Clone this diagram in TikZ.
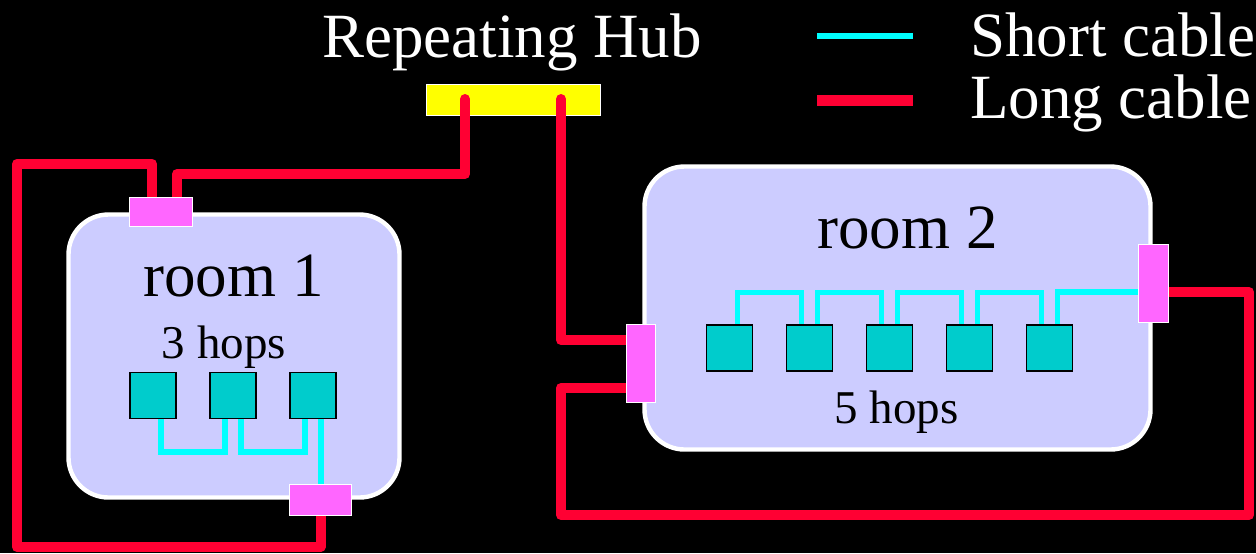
\documentclass[tikz,border=0pt]{standalone}
\usepackage{fontspec}
\setmainfont{Liberation Serif}
\usetikzlibrary{positioning,calc}
\definecolor{roomfill}{HTML}{CCCCFF}
\definecolor{plugfill}{HTML}{FF66FF}
\definecolor{devfill}{HTML}{00CCCC}
\definecolor{shortcol}{HTML}{00FFFF}
\definecolor{longcol}{HTML}{FF0033}
\definecolor{hubfill}{HTML}{FFFF00}
\pgfdeclarelayer{back}
\pgfdeclarelayer{wires}
\pgfsetlayers{back,wires,main}
\tikzset{
  room/.style={draw=white,line width=2.2pt,fill=roomfill,rounded corners=20pt,inner sep=0pt},
  dev/.style={draw=black,line width=0.8pt,fill=devfill,minimum size=23pt,inner sep=0pt},
  plug/.style={draw=white,line width=0.7pt,fill=plugfill,inner sep=0pt},
  short/.style={draw=shortcol,line width=2.7pt},
  long/.style={draw=longcol,line width=5pt,line join=round},
  big/.style={font=\fontsize{31.5}{36}\selectfont},
  small/.style={font=\fontsize{23.5}{28}\selectfont}
}
\begin{document}
\begin{tikzpicture}[x=0.5pt,y=-0.5pt]
      \begin{pgfonlayer}{back}
        \fill[black] (0,0) rectangle (1256,553);
        \node[room,minimum width=165.5pt,minimum height=141.5pt] (r1) at (234,356) {};
        \node[room,minimum width=253pt,minimum height=141.5pt] (r2) at (897.5,308) {};
        \node[draw=white,line width=0.5pt,fill=hubfill,minimum width=87pt,minimum height=15.5pt,inner sep=0pt] (hub) at (513.5,100) {};
      \end{pgfonlayer}
      \useasboundingbox (0,0) rectangle (1256,553);
      % texts
      \node[big,white,anchor=base] (title) at (512,57) {Repeating Hub};
      \node[big,anchor=base] (n1) at (233.5,296) {room 1};
      \node[small,anchor=base] (h1) at (224,358) {3 hops};
      \node[big,anchor=base] (n2) at (907.5,248) {room 2};
      \node[small,anchor=base] (h2) at (896.5,423) {5 hops};
      \node[big,white,anchor=base west] (lshort) at (963,56) {Short cable};
      \node[big,white,anchor=base west] (llong) at (963,118) {Long cable};
      % stations
      \foreach \i in {1,2,3}
        \node[dev] (a\i) at (73+80*\i,395.5) {};
      \foreach \i in {1,...,5}
        \node[dev] (b\i) at (649.5+80*\i,348) {};
      % plugs
      \node[plug,minimum width=31.5pt,minimum height=14.5pt] (p1) at (161,212) {};
      \node[plug,minimum width=31pt,minimum height=15.5pt] (p2) at (320.5,500) {};
      \node[plug,minimum width=14.5pt,minimum height=39pt] (p3) at (641,363.5) {};
      \node[plug,minimum width=15pt,minimum height=39pt] (p4) at (1153.5,283.5) {};
      \coordinate (hubl) at (465,99);
      \coordinate (hubr) at (561,99);
      \coordinate (lp) at (17,547);
      \coordinate (lc) at (561,515);
      \coordinate (rc) at (1249,515);
      \begin{pgfonlayer}{wires}
        % short cables
        \foreach \i/\j in {1/2,2/3}
          \draw[short] ($(a\i.south)+(8,0)$) -- ++(0,32.5) -| ($(a\j.south)+(-8,0)$);
        \draw[short] ($(a3.south)+(8,0)$) coordinate (d) -- (d |- p2.north);
        \foreach \i/\j in {1/2,2/3,3/4,4/5}
          \draw[short] ($(b\i.north)+(8,0)$) -- ++(0,-32) -| ($(b\j.north)+(-8,0)$);
        \draw[short] ($(b5.north)+(8,0)$) |- ($(p4.west)+(0,8.5)$);
        % long cables
        \draw[long,line cap=round] (hubl) -- ++(0,75) -| ($(p1.north)+(16,0)$);
        \draw[long] ($(p1.north)+(-9,0)$) -- ++(0,-33) -| (lp) -| (p2.south);
        \draw[long,line cap=round] (hubr) |- ($(p3.west)+(0,-23.5)$);
        \draw[long] ($(p3.west)+(0,24.5)$) -| (lc) -- (rc) |- ($(p4.east)+(0,8.5)$);
      \end{pgfonlayer}
      % legend
      \coordinate (s1) at (817,36);
      \coordinate (s2) at (913,36);
      \coordinate (l1) at (817,100.5);
      \coordinate (l2) at (913,100.5);
      \draw[short,line width=3pt] (s1) -- (s2);
      \draw[long,line width=5.5pt] (l1) -- (l2);
\end{tikzpicture}
\end{document}
